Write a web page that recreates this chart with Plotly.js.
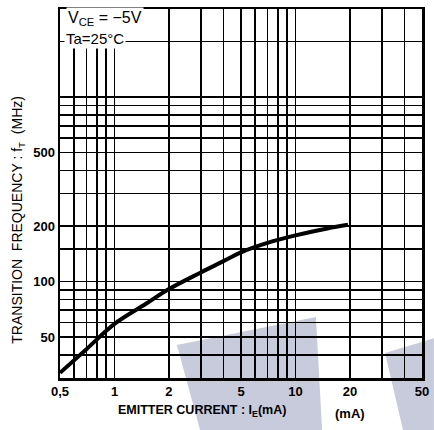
<!DOCTYPE html>
<html><head><meta charset="utf-8">
<script src="https://cdn.plot.ly/plotly-3.0.1.min.js"></script>
<style>html,body{margin:0;padding:0;background:#fff}#c{width:434px;height:430px}</style>
</head><body><div id="c"></div>
<script>
const emitterCurrent = [0.5, 0.7, 1, 1.5, 2, 3, 4, 5, 7, 10, 15, 19.5];
const transitionFreq = [32, 43, 59, 76, 91, 112, 129, 144, 162, 178, 194, 203];
const xGridVals = [0.5,0.6,0.7,0.8,0.9,1,2,3,4,5,6,7,8,9,10,20,30,40,50];
const xTickText = ["0,5","","","","","1","2","","","5","","","","","10","20","","","50"];
const yGridVals = [40,50,60,70,80,90,100,150,200,300,400,500,600,700,800,900,1000,2000];
const yTickText = ["","50","","","","","100","","200","","","500","","","","","",""];

const tickFont = {family:'"Liberation Sans", Arial, sans-serif', size:13, color:'#000', weight:'bold'};
const gray = 'rgb(200,203,220)';

const trace = {
  x: emitterCurrent, y: transitionFreq, type:'scatter', mode:'lines',
  line:{color:'#000', width:4, shape:'spline', smoothing:1},
  hoverinfo:'skip', showlegend:false
};

const layout = {
  width:434, height:430,
  margin:{l:60, r:12, t:9, b:52},
  paper_bgcolor:'#fff', plot_bgcolor:'rgba(0,0,0,0)',
  xaxis:{type:'log', range:[Math.log10(0.5), Math.log10(50)],
    tickmode:'array', tickvals:xGridVals, ticktext:xTickText,
    showgrid:true, gridcolor:'#000', gridwidth:1.8, ticks:'', ticklen:0,
    showline:true, mirror:true, linecolor:'#000', linewidth:2.5,
    tickfont:tickFont, zeroline:false},
  yaxis:{type:'log', range:[Math.log10(30), Math.log10(3000)],
    tickmode:'array', tickvals:yGridVals, ticktext:yTickText,
    showgrid:true, gridcolor:'#000', gridwidth:1.8, ticks:'', ticklen:0,
    showline:true, mirror:true, linecolor:'#000', linewidth:2.5,
    tickfont:tickFont, zeroline:false},
  shapes:[
    {type:'path', xref:'paper', yref:'paper', layer:'below', line:{width:0}, fillcolor:gray,
     path:'M0.323,0.0894 L0.707,0.165 L0.724,-0.141 L0.387,-0.141 Z'},
    {type:'path', xref:'paper', yref:'paper', layer:'below', line:{width:0}, fillcolor:gray,
     path:'M0.898,0.0678 L1.033,0.108 L1.033,-0.141 L0.9475,-0.141 Z'}
  ],
  annotations:[
    {xref:'paper', yref:'paper', x:0.017, y:0.975, xanchor:'left', yanchor:'middle', showarrow:false,
     text:'V<sub>CE</sub> = −5V', bgcolor:'#fff',
     font:{family:'"Liberation Sans", Arial, sans-serif', size:16, color:'#000'}},
    {xref:'paper', yref:'paper', x:0.012, y:0.92, xanchor:'left', yanchor:'middle', showarrow:false,
     text:'Ta=25°C', bgcolor:'#fff',
     font:{family:'"Liberation Sans", Arial, sans-serif', size:15, color:'#000'}},
    {xref:'paper', yref:'paper', x:-0.115, y:0.43, xanchor:'center', yanchor:'middle', showarrow:false,
     textangle:-90, text:'TRANSITION  FREQUENCY : f<sub>T</sub>  (MHz)',
     font:{family:'"Liberation Sans", Arial, sans-serif', size:14, color:'#000'}},
    {xref:'paper', yref:'paper', x:0.391, y:-0.09, xanchor:'center', yanchor:'middle', showarrow:false,
     text:'EMITTER CURRENT : I<sub>E</sub>(mA)',
     font:{family:'"Liberation Sans", Arial, sans-serif', size:12.5, color:'#000', weight:'bold'}},
    {xref:'paper', yref:'paper', x:0.8, y:-0.095, xanchor:'center', yanchor:'middle', showarrow:false,
     text:'(mA)',
     font:{family:'"Liberation Sans", Arial, sans-serif', size:13, color:'#000', weight:'bold'}}
  ]
};

Plotly.newPlot('c', [trace], layout, {displayModeBar:false, staticPlot:true});
</script>
</body></html>
